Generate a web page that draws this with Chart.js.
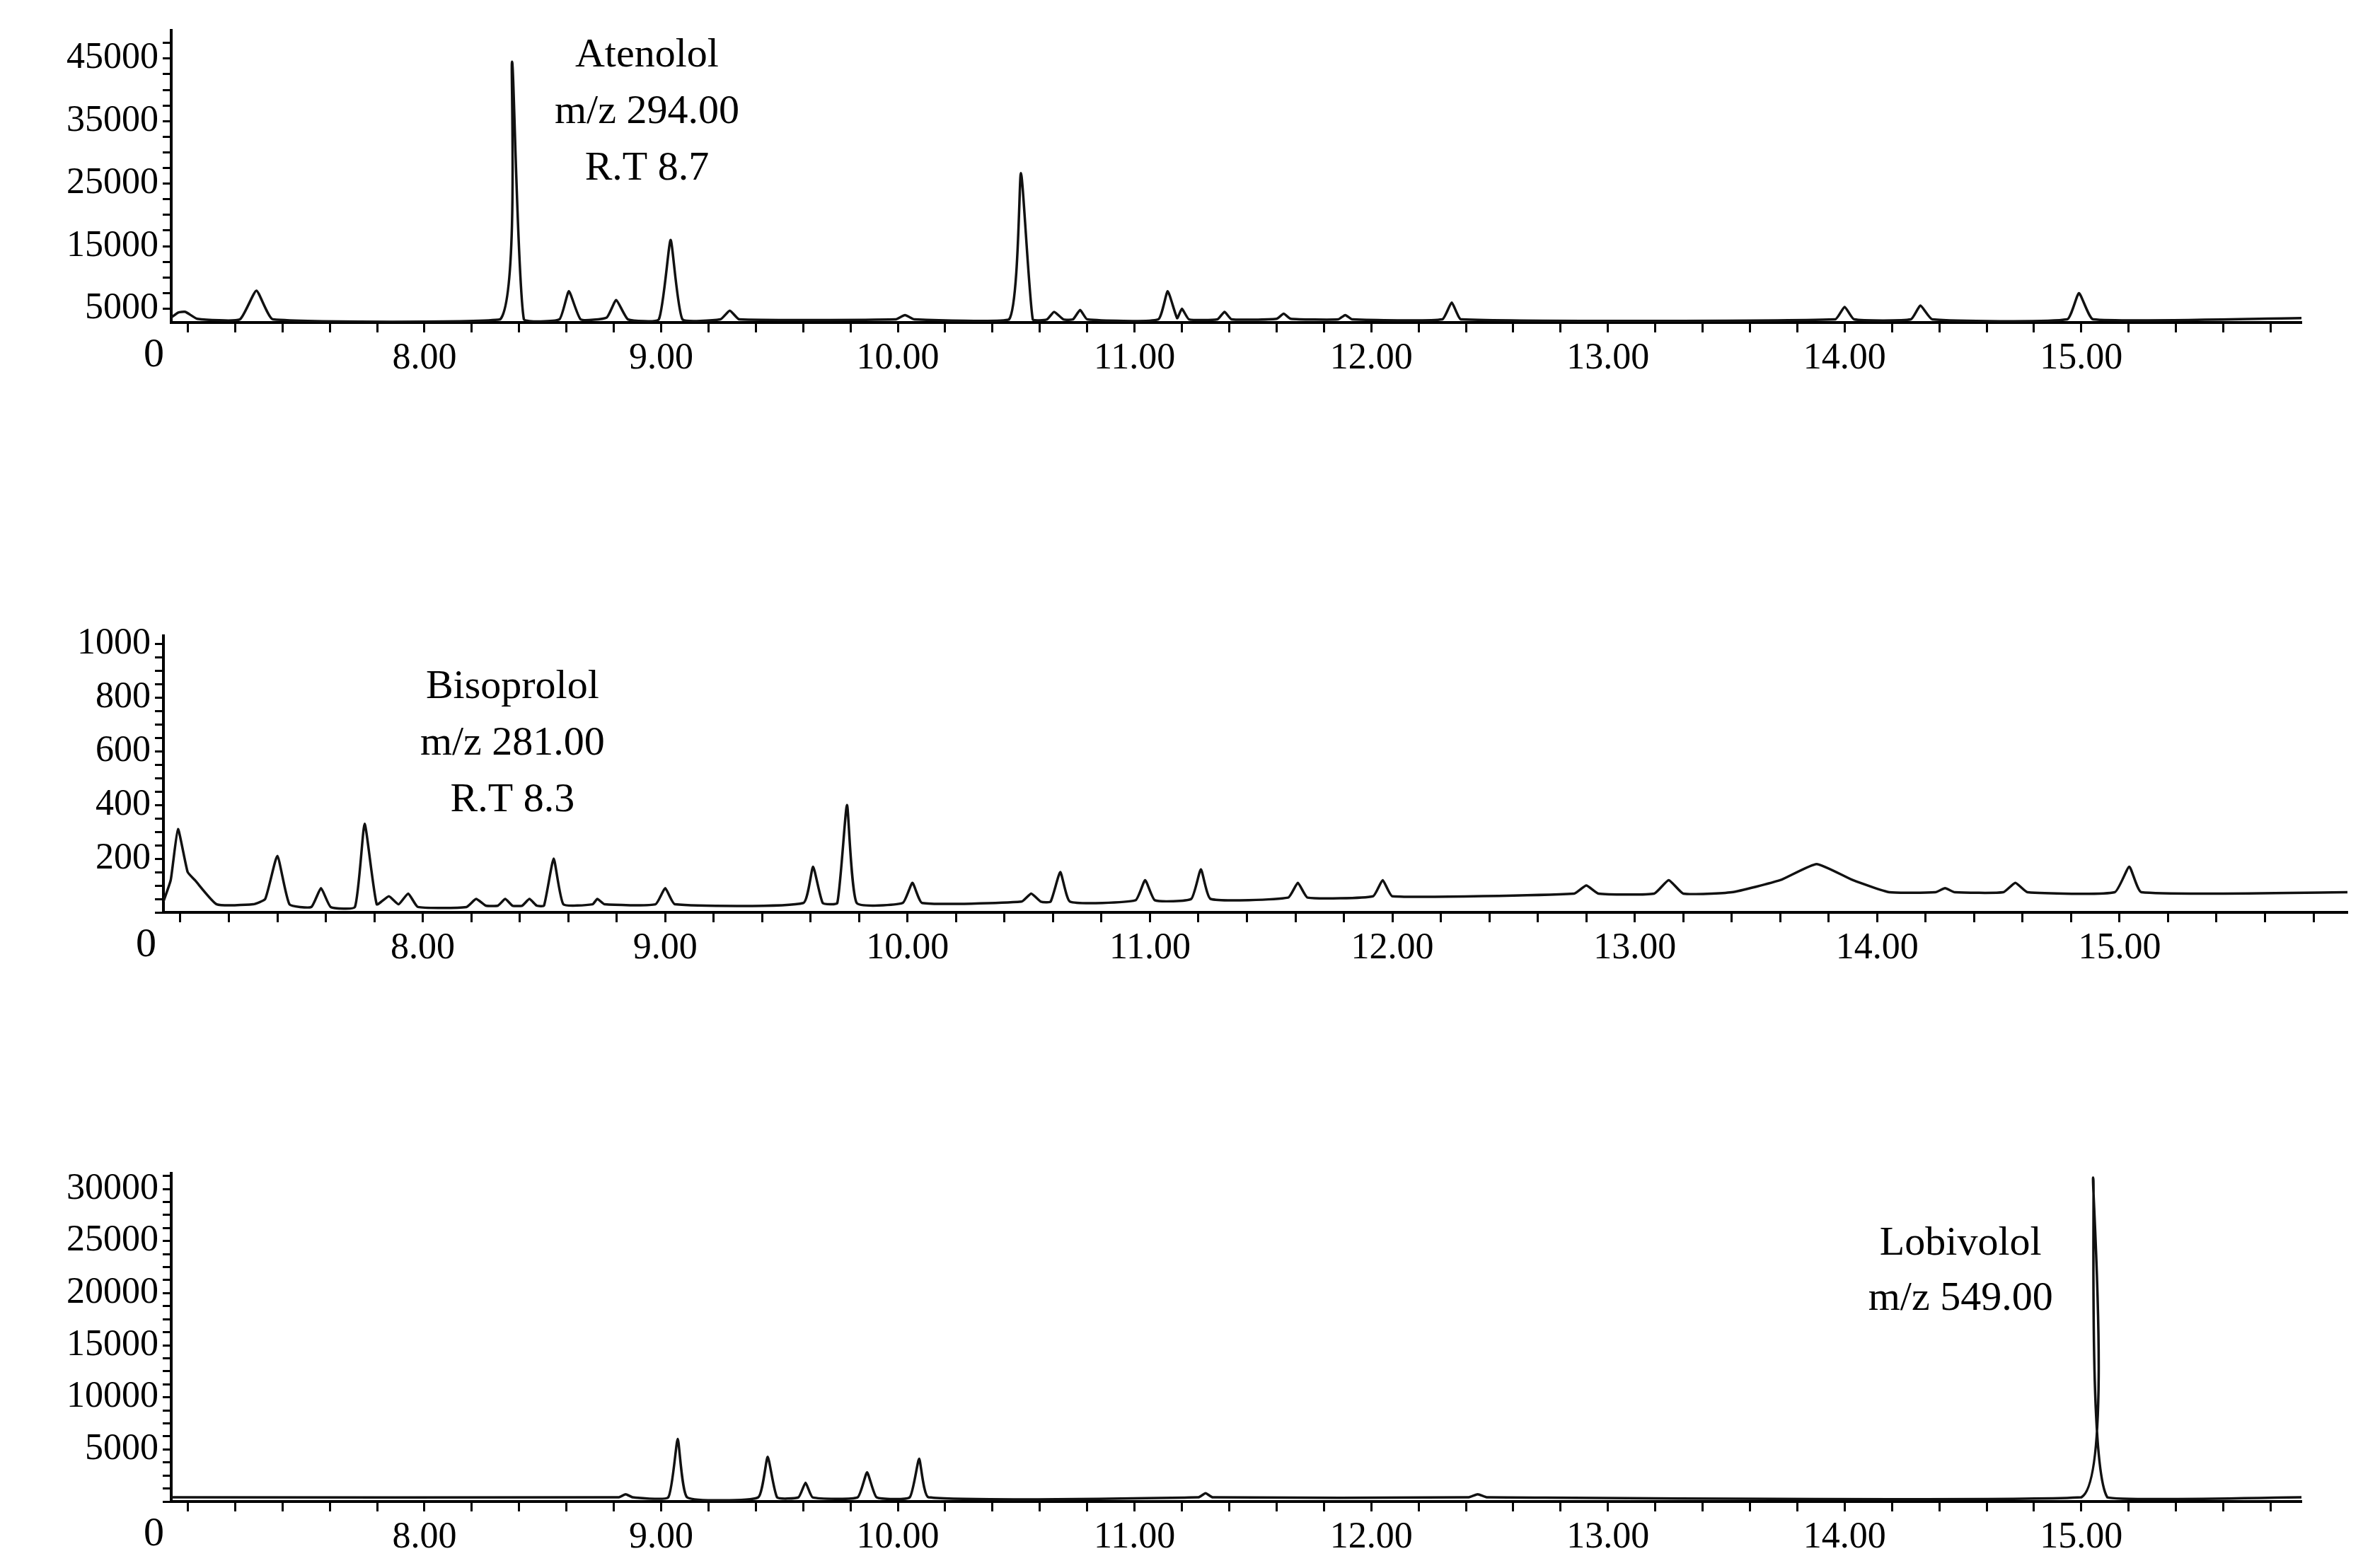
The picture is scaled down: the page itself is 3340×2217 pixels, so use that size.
<!DOCTYPE html>
<html><head><meta charset="utf-8">
<script src="https://cdn.jsdelivr.net/npm/chart.js@4/dist/chart.umd.min.js"></script>
<style>
html,body{margin:0;padding:0;background:#fff;width:3340px;height:2217px;overflow:hidden}
.p{position:absolute;left:0;width:3340px}
</style></head><body>
<div class="p" style="top:0;height:560px"><canvas id="c1"></canvas></div>
<div class="p" style="top:860px;height:520px"><canvas id="c2"></canvas></div>
<div class="p" style="top:1600px;height:617px"><canvas id="c3"></canvas></div>
<script>
// ---- data ----
const atenololTime = [6.93,6.96,6.99,7.04,7.22,7.29,7.36,8.32,8.37,8.42,8.57,8.61,8.66,8.77,8.81,8.86,8.99,9.04,9.09,9.25,9.29,9.33,9.99,10.03,10.07,10.47,10.52,10.57,10.63,10.66,10.70,10.74,10.77,10.80,11.10,11.14,11.18,11.20,11.23,11.35,11.38,11.41,11.60,11.63,11.66,11.86,11.89,11.92,12.30,12.34,12.38,13.96,14.00,14.04,14.28,14.32,14.37,14.94,14.99,15.05,15.93];
const atenololVals = [3600,4400,4500,3400,3300,7900,3300,3300,44500,3300,3300,7800,3300,3600,6400,3300,3300,16000,3300,3300,4700,3300,3300,4000,3300,3300,26700,3300,3300,4500,3300,3300,4800,3300,3300,7800,3500,5000,3300,3300,4500,3300,3400,4200,3400,3300,4000,3300,3300,6000,3300,3300,5300,3300,3300,5500,3300,3300,7500,3300,3500];
const bisoTime = [6.93,6.96,6.99,7.03,7.06,7.15,7.30,7.35,7.40,7.45,7.54,7.58,7.62,7.72,7.76,7.81,7.86,7.90,7.94,7.98,8.18,8.22,8.26,8.31,8.34,8.37,8.41,8.44,8.47,8.50,8.54,8.58,8.70,8.72,8.75,8.96,9.00,9.04,9.57,9.61,9.65,9.71,9.75,9.79,9.98,10.02,10.06,10.47,10.51,10.55,10.59,10.63,10.67,10.94,10.98,11.02,11.17,11.21,11.25,11.57,11.61,11.65,11.92,11.96,12.00,12.75,12.80,12.85,13.08,13.14,13.20,13.40,13.60,13.75,13.90,14.05,14.24,14.28,14.32,14.52,14.57,14.62,14.98,15.04,15.09,15.94];
const bisoVals = [40,120,310,150,120,30,30,50,210,30,20,90,20,20,330,30,60,30,70,20,20,50,25,25,50,25,25,50,25,25,200,30,30,50,30,30,90,30,35,170,35,35,400,35,35,110,35,40,70,40,40,150,40,45,120,45,50,160,50,55,110,55,60,120,60,70,100,70,70,120,70,75,120,180,120,75,75,90,75,75,110,75,75,170,75,75];
const lobiTime = [6.93,8.82,8.85,8.88,9.03,9.07,9.11,9.41,9.45,9.49,9.58,9.61,9.64,9.83,9.87,9.91,10.05,10.09,10.13,11.27,11.30,11.33,12.41,12.45,12.49,15.00,15.05,15.11,15.93];
const lobiVals = [400,400,700,400,400,6000,400,400,4300,400,400,1800,400,400,2800,400,400,4100,400,400,800,400,400,700,400,400,31100,400,400];
const xTickLabels = ['8.00','9.00','10.00','11.00','12.00','13.00','14.00','15.00'];
const atenololYLabels = [5000,15000,25000,35000,45000];
const bisoYLabels = [200,400,600,800,1000];
const lobiYLabels = [5000,10000,15000,20000,25000,30000];
const annotations = [
  ['Atenolol','m/z 294.00','R.T 8.7'],
  ['Bisoprolol','m/z 281.00','R.T 8.3'],
  ['Lobivolol','m/z 549.00']
];
// ---- drawing ----
const FONT = '"Liberation Serif", "DejaVu Serif", serif';
function pts(t,v){return t.map((x,i)=>({x:x,y:v[i]}));}
function build(id, data, cfg){
  const textPlugin = {
    id:'txt'+id,
    afterDraw(ch){
      const c=ch.ctx, xs=ch.scales.x, ys=ch.scales.y;
      c.save(); c.fillStyle='#000'; c.font='58px '+FONT; c.textAlign='center'; c.textBaseline='middle';
      cfg.lines.forEach((l,i)=>c.fillText(l, xs.getPixelForValue(cfg.ax), ch.chartArea.top+cfg.ay+i*cfg.lh));
      c.textAlign='right'; c.textBaseline='top';
      c.fillText('0', ch.chartArea.left-10, ch.chartArea.bottom+18);
      c.restore();
    }
  };
  return new Chart(document.getElementById(id), {
    type:'line',
    data:{datasets:[{data:data,borderColor:'#111',borderWidth:3.5,pointRadius:0,tension:0.15,fill:false}]},
    options:{
      responsive:true,maintainAspectRatio:false,animation:false,
      layout:{padding:{left:0,right:cfg.right,top:cfg.top,bottom:0}},
      plugins:{legend:{display:false},tooltip:{enabled:false}},
      scales:{
        x:{type:'linear',min:6.93,max:cfg.xmax,
          afterFit(s){s.height=cfg.xh;},
          afterBuildTicks(s){const t=[];for(let i=35;i<=79;i++){t.push({value:i/5});}s.ticks=t;},
          border:{color:'#000',width:4},
          grid:{drawOnChartArea:false,color:'#000',tickLength:14,tickWidth:3},
          ticks:{color:'#000',font:{family:FONT,size:52},padding:6,maxRotation:0,autoSkip:false,
            callback:(v)=>{const s=Number(v).toFixed(2);return xTickLabels.includes(s)?s:'';}}
        },
        y:{min:cfg.ymin,max:cfg.ymax,
          afterFit(s){s.width=cfg.yw;},
          afterBuildTicks(s){const t=[];for(let v=cfg.t0;v<=cfg.ymax;v+=cfg.step){t.push({value:v});}s.ticks=t;},
          border:{color:'#000',width:4},
          grid:{drawOnChartArea:false,color:'#000',tickLength:12,tickWidth:3},
          ticks:{color:'#000',font:{family:FONT,size:52},padding:6,autoSkip:false,
            callback:(v)=>cfg.labels.includes(v)?String(v):''}
        }
      }
    },
    plugins:[textPlugin]
  });
}
build('c1', pts(atenololTime,atenololVals), {right:87,top:43,xh:104,yw:242,xmax:15.93,ymin:2800,ymax:49500,t0:5000,step:2500,labels:atenololYLabels,lines:annotations[0],ax:8.94,ay:36,lh:80});
build('c2', pts(bisoTime,bisoVals), {right:22,top:39,xh:90,yw:231,xmax:15.94,ymin:0,ymax:1030,t0:0,step:50,labels:bisoYLabels,lines:annotations[1],ax:8.37,ay:73,lh:80});
build('c3', pts(lobiTime,lobiVals), {right:87,top:59,xh:94,yw:242,xmax:15.93,ymin:0,ymax:31500,t0:0,step:1250,labels:lobiYLabels,lines:annotations[2],ax:14.49,ay:100,lh:78});
</script>
</body></html>
